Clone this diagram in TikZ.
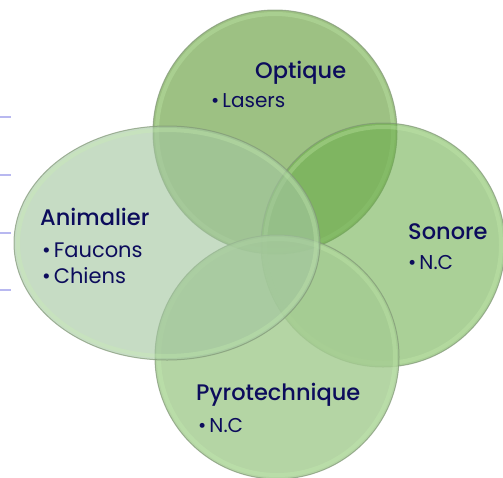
\documentclass[tikz,border=0pt]{standalone}
\usepackage{fontspec}
\setmainfont{Poppins}
\newfontfamily\hdfont{Poppins Medium}
\usetikzlibrary{shapes.geometric}
\definecolor{optc}{RGB}{157,193,131}
\definecolor{sonc}{RGB}{105,172,72}
\definecolor{pyrc}{RGB}{165,204,146}
\definecolor{anic}{RGB}{163,198,160}
\definecolor{txtc}{RGB}{12,12,92}
\definecolor{edgec}{RGB}{128,150,118}
\definecolor{glowc}{RGB}{200,240,176}
\definecolor{tickc}{RGB}{184,184,240}
\begin{document}
\begin{tikzpicture}[x=1pt,y=1pt,
  blob/.style={circle,inner sep=0pt,minimum size=244pt,draw=edgec,line width=1pt,draw opacity=0.7},
  glow/.style={draw=glowc,line width=4pt,draw opacity=0.3},
  head/.style={anchor=base west,inner sep=0pt,text=txtc,font=\hdfont\fontsize{22.5}{26}\selectfont},
  item/.style={anchor=base west,inner sep=0pt,text=txtc,font=\fontsize{20}{24}\selectfont},
  itemb/.style={anchor=base west,inner sep=0pt,text=txtc,font=\fontsize{21}{25}\selectfont},
  tick/.style={draw=tickc,line width=1.5pt}]
\useasboundingbox (0,0) rectangle (503,-477);
% left ticks
\coordinate (t1a) at (0,-117); \coordinate (t1b) at (11,-117);
\coordinate (t2a) at (0,-175); \coordinate (t2b) at (11,-175);
\coordinate (t3a) at (0,-233); \coordinate (t3b) at (11,-233);
\coordinate (t4a) at (0,-290); \coordinate (t4b) at (11,-290);
\draw[tick] (t1a) -- (t1b);
\draw[tick] (t2a) -- (t2b);
\draw[tick] (t3a) -- (t3b);
\draw[tick] (t4a) -- (t4b);
% circles
\node[blob,fill=optc] (optique) at (275,-132) {};
\draw[glow] (optique.center) circle (118);
\node[blob,fill=sonc,fill opacity=0.57] (sonore) at (383,-245) {};
\draw[glow] (sonore.center) circle (118);
\node[blob,fill=pyrc,fill opacity=0.83] (pyro) at (277,-357) {};
\draw[glow] (pyro.center) circle (118);
\node[ellipse,inner sep=0pt,minimum width=306pt,minimum height=234pt,fill=anic,fill opacity=0.62,draw=edgec,line width=1pt,draw opacity=0.7] (animal) at (167,-243) {};
\draw[glow] (animal.center) ellipse [x radius=149, y radius=113];
% texts
\node[head] (optT) at (255,-78) {Optique};
\node[item] (optI) at (211,-107) {•\hspace{3pt}Lasers};
\node[head] (aniT) at (40,-225) {Animalier};
\node[itemb] (aniI1) at (42,-257) {•\hspace{3pt}Faucons};
\node[itemb] (aniI2) at (42,-283) {•\hspace{3pt}Chiens};
\node[head] (sonT) at (408,-239) {Sonore};
\node[item] (sonI) at (408,-269) {•\hspace{3pt}N.C};
\node[head] (pyrT) at (196,-400) {Pyrotechnique};
\node[item] (pyrI) at (198,-432) {•\hspace{3pt}N.C};
\end{tikzpicture}
\end{document}
